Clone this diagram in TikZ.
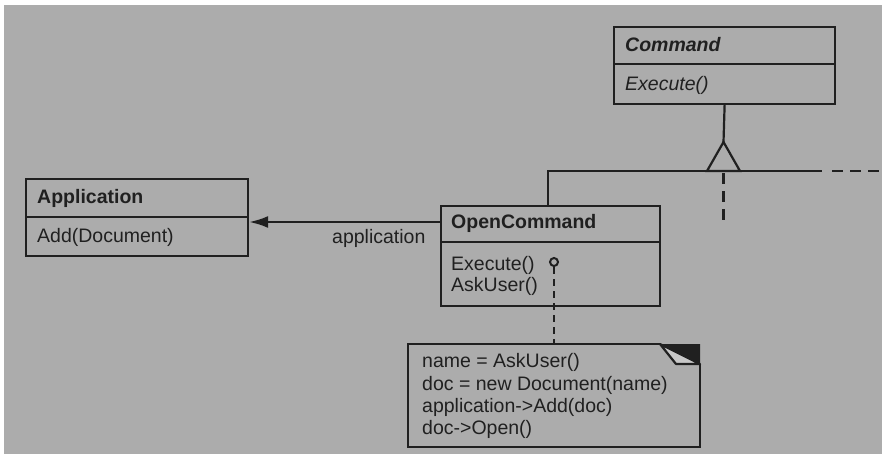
\documentclass[tikz,border=0pt]{standalone}
\usepackage{fontspec}
\setmainfont{Liberation Sans}
\usetikzlibrary{arrows.meta}
\definecolor{paper}{RGB}{172,172,172}
\definecolor{ink}{RGB}{32,32,32}
\definecolor{flap}{RGB}{200,200,200}
\tikzset{
  ln/.style={draw=ink, line width=2.2pt},
  umlbox/.style={ln, rectangle, inner sep=0pt, anchor=north west},
  txt/.style={text=ink, font=\fontsize{19.5}{22}\selectfont, inner sep=0pt, anchor=west},
  dsh/.style={ln, dash pattern=on 11pt off 7pt},
  dshs/.style={ln, dash pattern=on 7pt off 5pt}
}
\begin{document}
\begin{tikzpicture}[x=1pt,y=-1pt]
\useasboundingbox (0,0) rectangle (882,458);
\fill[white] (0,0) rectangle (882,458);
\fill[paper] (4,5) rectangle (882,454);

% Command
\node[umlbox, minimum width=221pt, minimum height=77pt] (cmd) at (613,26) {};
\draw[ln] (cmd.west |- 0,64) -- (cmd.east |- 0,64);
\node[txt] (cmdname) at (625,45) {\bfseries\itshape Command};
\node[txt] (cmdop) at (625,85) {\itshape Execute()};

% Application
\node[umlbox, minimum width=222pt, minimum height=77pt] (app) at (25,178) {};
\draw[ln] (app.west |- 0,217) -- (app.east |- 0,217);
\node[txt] (appname) at (37,198) {\bfseries Application};
\node[txt] (appop) at (37,237) {Add(Document)};

% OpenCommand
\node[umlbox, minimum width=219pt, minimum height=100pt] (oc) at (440,205) {};
\draw[ln] (oc.west |- 0,242) -- (oc.east |- 0,242);
\node[txt] (ocname) at (451,223) {\bfseries OpenCommand};
\node[txt] (ocop1) at (451,265) {Execute()};
\node[txt] (ocop2) at (451,286) {AskUser()};

% Note with folded corner
\coordinate (nA) at (408,344);
\coordinate (nB) at (660,344);
\coordinate (nC) at (700,344);
\coordinate (nD) at (700,364);
\coordinate (nE) at (676,364);
\coordinate (nF) at (700,447);
\coordinate (nG) at (408,447);
\fill[ink] (nB) -- (nC) -- (nD) -- cycle;
\filldraw[ln, fill=flap, line join=round] (nB) -- (nE) -- (nD) -- cycle;
\draw[ln, line join=miter] (nB) -- (nA) -- (nG) -- (nF) -- (nD);
\node[txt] (n1) at (422,362) {name = AskUser()};
\node[txt] (n2) at (422,385) {doc = new Document(name)};
\node[txt] (n3) at (422,407) {application->Add(doc)};
\node[txt] (n4) at (422,429) {doc->Open()};

% association to Application
\draw[ln, -{Latex[length=19pt,width=12pt]}] (oc.west |- 0,222) -- (app.east |- 0,222);
\node[txt] (assoc) at (332,238) {application};

% inheritance
\coordinate (apex) at (723.5,142);
\coordinate (bl) at (707,171);
\coordinate (br) at (740,171);
\coordinate (hl) at (548,171);
\coordinate (hr) at (822,171);
\coordinate (hd) at (882,171);
\coordinate (vd) at (723.5,220);
\draw[ln] (cmd.south) -- (apex);
\draw[ln, line join=miter] (apex) -- (bl) -- (br) -- cycle;
\draw[ln] (hl |- oc.north) -- (hl) -- (hr);
\draw[dsh] (hr) ++(10,0) -- (hd);
\draw[dsh] (723.5,173) -- (vd);

% implementation note link
\node[draw=ink, line width=2pt, circle, inner sep=0pt, minimum size=8pt] (dot) at (554,262) {};
\draw[dshs] (dot.south) -- (dot.south |- nA);
\end{tikzpicture}
\end{document}
